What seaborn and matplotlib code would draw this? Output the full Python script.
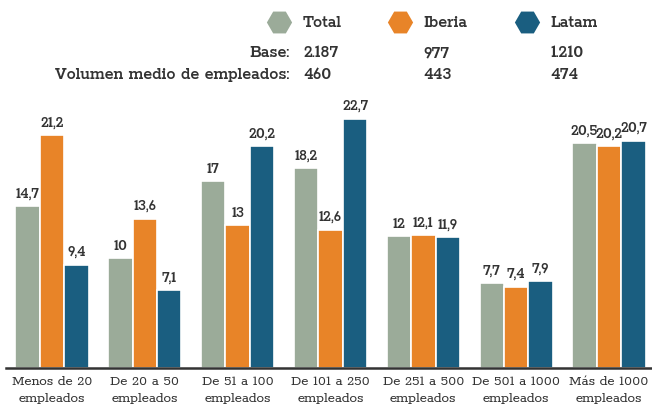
import matplotlib
matplotlib.use("Agg")
import matplotlib.pyplot as plt
import pandas as pd
import seaborn as sns

categories = ["Menos de 20\nempleados", "De 20 a 50\nempleados", "De 51 a 100\nempleados",
              "De 101 a 250\nempleados", "De 251 a 500\nempleados", "De 501 a 1000\nempleados",
              "Más de 1000\nempleados"]
series = ["Total", "Iberia", "Latam"]
total = [14.7, 10, 17, 18.2, 12, 7.7, 20.5]
iberia = [21.2, 13.6, 13, 12.6, 12.1, 7.4, 20.2]
latam = [9.4, 7.1, 20.2, 22.7, 11.9, 7.9, 20.7]
base = ["2.187", "977", "1.210"]
volumen = ["460", "443", "474"]
colors = ["#9BAB99", "#E88428", "#1A5E80"]

values = [total, iberia, latam]
df = pd.DataFrame({
    "cat": categories * 3,
    "serie": [s for s in series for _ in categories],
    "valor": total + iberia + latam,
})

sns.set_style("white")
head_font = dict(family=["Rokkitt", "DejaVu Serif"], weight=600, color="#333333")
tick_family = ["Rokkitt", "DejaVu Serif"]

fig = plt.figure(figsize=(6.52, 4.12), dpi=100)
ax = fig.add_axes([5.5 / 652, 44 / 412, 650 / 652, 278 / 412])
sns.barplot(data=df, x="cat", y="valor", hue="serie", hue_order=series, order=categories,
            palette=colors, saturation=1, width=0.79, edgecolor="white", linewidth=1.2,
            legend=False, ax=ax)
ax.set_ylim(0, 25.3)
ax.set_xlim(-0.5, 6.5)

for cont, vals in zip(ax.containers, values):
    labels = [f"{v:g}".replace(".", ",") for v in vals]
    ax.bar_label(cont, labels=labels, padding=4, fontsize=11.5, **head_font)

for s in ["left", "right", "top"]:
    ax.spines[s].set_visible(False)
ax.spines["bottom"].set_color("#333333")
ax.spines["bottom"].set_linewidth(1.8)
ax.set_yticks([])
ax.set_xlabel("")
ax.set_ylabel("")
ax.tick_params(axis="x", length=0, pad=6)
for t in ax.get_xticklabels():
    t.set_fontfamily(tick_family)
    t.set_fontsize(11)
    t.set_color("#333333")
    t.set_linespacing(1.6)

# header: legend + base rows
ov = fig.add_axes([0, 0, 1, 1])
ov.set_xlim(0, 652)
ov.set_ylim(412, 0)
ov.axis("off")
hex_x = [279, 400, 527]
text_x = [303, 423, 550]
for hx, tx, s, c, b, v in zip(hex_x, text_x, series, colors, base, volumen):
    ov.scatter([hx], [22], marker="H", s=330, color=c, linewidths=0)
    ov.text(tx, 23, s, va="center", ha="left", fontsize=13, **head_font)
    ov.text(tx, 53, b, va="center", ha="left", fontsize=13, **head_font)
    ov.text(tx, 75, v, va="center", ha="left", fontsize=13, **head_font)
ov.text(289, 53, "Base:", va="center", ha="right", fontsize=13, **head_font)
ov.text(289, 75, "Volumen medio de empleados:", va="center", ha="right", fontsize=13, **head_font)

fig.savefig("out.png", dpi=100)
